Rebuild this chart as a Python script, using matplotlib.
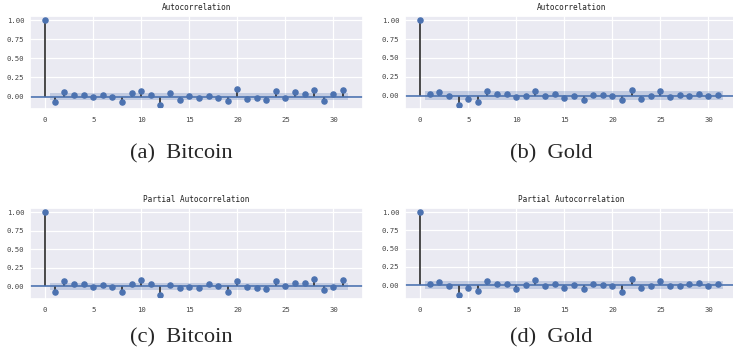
import numpy as np
import matplotlib
matplotlib.use("Agg")
import matplotlib.pyplot as plt
import seaborn as sns

# correlation values for lags 1..31 (lag 0 is always 1.0)
lags = np.arange(0, 32)

btc_acf = [1.0, -0.074, 0.065, 0.022, 0.022, -0.004, 0.022, -0.004, -0.074, 0.043, 0.074,
           0.022, -0.108, 0.043, -0.043, 0.004, -0.017, 0.013, -0.017, -0.056, 0.100,
           -0.030, -0.017, -0.043, 0.078, -0.022, 0.061, 0.039, 0.082, -0.056, 0.035, 0.082]
gold_acf = [1.0, 0.026, 0.044, -0.013, -0.123, -0.040, -0.080, 0.066, 0.026, 0.026, -0.022,
            -0.004, 0.057, -0.013, 0.026, -0.031, -0.004, -0.062, 0.009, 0.009, -0.004,
            -0.062, 0.079, -0.040, -0.004, 0.066, -0.022, 0.009, -0.004, 0.018, -0.004, 0.004]
btc_pacf = [1.0, -0.075, 0.066, 0.035, 0.026, -0.004, 0.013, -0.004, -0.075, 0.035, 0.083,
            0.035, -0.114, 0.013, -0.022, -0.004, -0.022, 0.026, 0.004, -0.075, 0.075,
            -0.013, -0.022, -0.040, 0.075, 0.004, 0.044, 0.044, 0.100, -0.053, -0.013, 0.088]
gold_pacf = [1.0, 0.022, 0.040, -0.018, -0.133, -0.036, -0.076, 0.062, 0.013, 0.013, -0.049,
             0.0, 0.071, -0.009, 0.013, -0.036, 0.0, -0.058, 0.022, 0.0, -0.018,
             -0.098, 0.084, -0.044, -0.009, 0.062, -0.018, -0.018, 0.022, 0.031, -0.018, 0.013]

# 95% confidence half-widths
btc_conf = 0.046
gold_conf = 0.055

titles = ["Autocorrelation", "Autocorrelation", "Partial Autocorrelation", "Partial Autocorrelation"]
captions = ["(a)  Bitcoin", "(b)  Gold", "(c)  Bitcoin", "(d)  Gold"]

sns.set_theme(style="darkgrid")
plt.rcParams["font.family"] = ["DejaVu Sans Mono"]

W, H = 733, 357
fig = plt.figure(figsize=(W / 100, H / 100), dpi=100)

# axes boxes in pixels: left, top, right, bottom
boxes = [(30, 16, 363, 109), (405, 16, 738, 109), (30, 208, 363, 299), (405, 208, 738, 299)]
caption_x = [181, 551, 181, 551]
caption_y = [158, 158, 342, 342]

series = [(btc_acf, btc_conf), (gold_acf, gold_conf), (btc_pacf, btc_conf), (gold_pacf, gold_conf)]
blue = "#4C72B0"

for k, ((vals, conf), box) in enumerate(zip(series, boxes)):
    l, t, r, b = box
    ax = fig.add_axes([l / W, 1 - b / H, (r - l) / W, (b - t) / H])
    vals = np.array(vals)
    ax.vlines(lags, 0, vals, colors="#2b2b2b", lw=1.2)
    ax.axhline(0, color=blue, lw=1.2)
    ax.margins(0.05)
    ax.plot(lags, vals, "o", color=blue, markersize=3.7)
    # confidence band from lag 0.5 to 31.5
    band_x = lags[1:].astype(float)
    band_x[0] -= 0.5
    band_x[-1] += 0.5
    ax.fill_between(band_x, -conf, conf, color=blue, alpha=0.25, lw=0)
    ax.set_title(titles[k], fontsize=5.5, pad=4, color="#222222")
    ax.set_xticks(np.arange(0, 31, 5))
    ax.set_yticks([0, 0.25, 0.5, 0.75, 1.0])
    ax.set_yticklabels(["%.2f" % v for v in [0, 0.25, 0.5, 0.75, 1.0]])
    ax.tick_params(labelsize=5.2, labelcolor="#444444", length=0)
    ax.tick_params(axis="y", pad=4)
    ax.tick_params(axis="x", pad=5.5)
    ax.grid(color="white", lw=0.9)

    fig.text(caption_x[k] / W, 1 - caption_y[k] / H, captions[k],
             family="Liberation Serif", fontsize=16.2, ha="center", va="baseline")

fig.savefig("out.png", dpi=100)
